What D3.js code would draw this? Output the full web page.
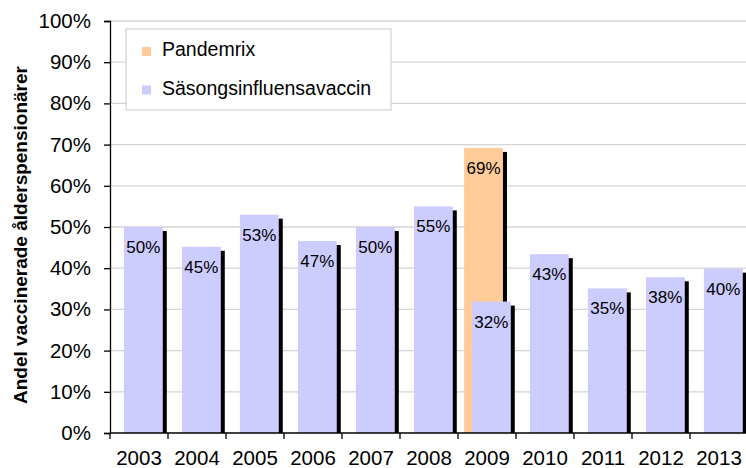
<!DOCTYPE html>
<html>
  <head>
    <meta charset="UTF-8">
    <script src="https://d3js.org/d3.v7.min.js"></script>
    <style>
      body { margin: 0; background: #fff; }
      text { font-family: "Liberation Sans", Arial, sans-serif; }
    </style>
  </head>
  <body>
    <svg id="chart" width="746" height="468"></svg>
    <script>
      // data
      var years = ['2003','2004','2005','2006','2007','2008','2009','2010','2011','2012','2013'];
      var seasonal = [0.50, 0.452, 0.53, 0.466, 0.50, 0.55, 0.319, 0.434, 0.351, 0.378, 0.399];
      var seasonalLabels = ['50%','45%','53%','47%','50%','55%','32%','43%','35%','38%','40%'];
      var pandemrixYears = ['2009'];
      var pandemrix = [0.692];
      var pandemrixLabels = ['69%'];
      var yTicks = [0, 0.1, 0.2, 0.3, 0.4, 0.5, 0.6, 0.7, 0.8, 0.9, 1.0];
      var legendNames = ['Pandemrix', 'Säsongsinfluensavaccin'];
      var colors = ['#ffcc99', '#ccccff'];

      var svg = d3.select('#chart');
      var pLeft = 110, pRight = 748, pTop = 21, pBottom = 433;

      var x = d3.scaleBand().domain(years).range([pLeft, pRight]).padding(0);
      var y = d3.scaleLinear().domain([0, 1]).range([pBottom, pTop]);
      var bw = x.bandwidth();
      var barW = bw * 0.67;
      var offS = bw * 0.24, offP = bw * 0.105;
      var sh = 4; // shadow offset

      // grid
      svg.append('g').selectAll('line').data(yTicks.slice(1)).enter().append('line')
        .attr('x1', pLeft).attr('x2', 746)
        .attr('y1', function(d) { return y(d); }).attr('y2', function(d) { return y(d); })
        .attr('stroke', '#d4d4d4').attr('stroke-width', 1.3);

      function drawBars(cls, keys, vals, off, color) {
        var data = keys.map(function(k, i) { return { year: k, v: vals[i] }; });
        var g = svg.append('g').attr('class', cls);
        g.selectAll('rect.sh').data(data).enter().append('rect')
          .attr('class', 'sh')
          .attr('x', function(d) { return x(d.year) + off + sh; })
          .attr('y', function(d) { return y(d.v) + sh; })
          .attr('width', barW)
          .attr('height', function(d) { return pBottom - y(d.v) - sh; })
          .attr('fill', '#000');
        g.selectAll('rect.bar').data(data).enter().append('rect')
          .attr('class', 'bar')
          .attr('x', function(d) { return x(d.year) + off; })
          .attr('y', function(d) { return y(d.v); })
          .attr('width', barW)
          .attr('height', function(d) { return pBottom - y(d.v); })
          .attr('fill', color);
        return g;
      }

      var gP = drawBars('pan', pandemrixYears, pandemrix, offP, colors[0]);
      var gS = drawBars('sea', years, seasonal, offS, colors[1]);

      function drawLabels(g, keys, vals, labels, off) {
        g.selectAll('text').data(keys).enter().append('text')
          .attr('x', function(d) { return x(d) + off + barW / 2; })
          .attr('y', function(d, i) { return y(vals[i]) + 26; })
          .attr('text-anchor', 'middle')
          .attr('font-size', 17)
          .attr('fill', '#000')
          .text(function(d, i) { return labels[i]; });
      }
      drawLabels(gP, pandemrixYears, pandemrix, pandemrixLabels, offP);
      drawLabels(gS, years, seasonal, seasonalLabels, offS);

      // y axis
      var yAxis = d3.axisLeft(y).tickValues(yTicks).tickFormat(d3.format('.0%'))
        .tickSize(6).tickPadding(13);
      var ya = svg.append('g').attr('transform', 'translate(' + pLeft + ',0)').call(yAxis);
      ya.select('.domain').attr('stroke', '#000').attr('stroke-width', 1.3);
      ya.selectAll('.tick line').attr('stroke', '#000').attr('stroke-width', 1.3);
      ya.selectAll('.tick text').attr('font-size', 20.5).attr('fill', '#000')
        .style('font-family', '"Liberation Sans", Arial, sans-serif');

      // x axis
      var xa = svg.append('g').attr('transform', 'translate(0,' + pBottom + ')');
      xa.append('line').attr('x1', pLeft).attr('x2', 746).attr('y1', 0).attr('y2', 0)
        .attr('stroke', '#000').attr('stroke-width', 1.3);
      xa.selectAll('line.tk').data(years).enter().append('line')
        .attr('class', 'tk')
        .attr('x1', function(d) { return x(d); })
        .attr('x2', function(d) { return x(d); })
        .attr('y1', 0).attr('y2', 6)
        .attr('stroke', '#000').attr('stroke-width', 1.3);
      xa.selectAll('text').data(years).enter().append('text')
        .attr('x', function(d) { return x(d) + bw / 2; })
        .attr('y', 32)
        .attr('text-anchor', 'middle')
        .attr('font-size', 20.5)
        .text(function(d) { return d; });

      // y title
      svg.append('text')
        .attr('transform', 'translate(27,235) rotate(-90)')
        .attr('text-anchor', 'middle')
        .attr('font-size', 19)
        .attr('font-weight', 'bold')
        .text('Andel vaccinerade ålderspensionärer');

      // legend
      var lg = svg.append('g');
      lg.append('rect').attr('x', 126).attr('y', 29).attr('width', 265).attr('height', 81)
        .attr('fill', '#fff').attr('stroke', '#c8c8c8').attr('stroke-width', 1);
      lg.selectAll('rect.sw').data(legendNames).enter().append('rect')
        .attr('class', 'sw')
        .attr('x', 142).attr('y', function(d, i) { return 47 + i * 38.5; })
        .attr('width', 9).attr('height', 9)
        .attr('fill', function(d, i) { return colors[i]; });
      lg.selectAll('text').data(legendNames).enter().append('text')
        .attr('x', 162).attr('y', function(d, i) { return 56 + i * 39; })
        .attr('font-size', 19.5)
        .text(function(d) { return d; });
    </script>
  </body>
</html>
